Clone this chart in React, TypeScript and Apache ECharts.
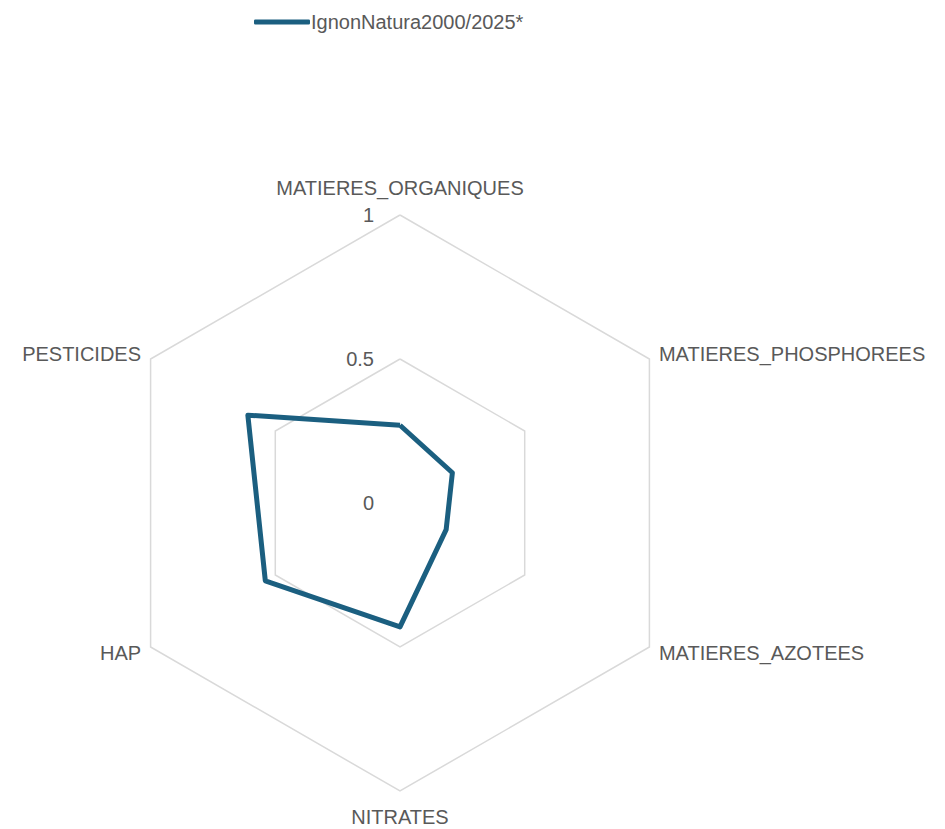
import React, { useEffect, useRef } from "react";
import * as echarts from "echarts";

const seriesName = "IgnonNatura2000/2025*";
// Categories clockwise from the top
const categories = [
  "MATIERES_ORGANIQUES",
  "MATIERES_PHOSPHOREES",
  "MATIERES_AZOTEES",
  "NITRATES",
  "HAP",
  "PESTICIDES",
];
const values = [0.27, 0.21, 0.185, 0.43, 0.54, 0.61];
const axisMax = 1;
const splitCount = 2;

const LINE_COLOR = "#1b5f80";
const TEXT_COLOR = "#595959";
const FONT = "'Liberation Sans', Arial, sans-serif";
const FONT_SIZE = 20;

export default function App() {
  const ref = useRef<HTMLDivElement>(null);
  useEffect(() => {
    if (!ref.current) return;
    const chart = echarts.init(ref.current, null, { renderer: "svg" });
    // ECharts radar runs counter-clockwise: reorder so the chart reads clockwise
    const order = [0, ...categories.map((_, i) => i).slice(1).reverse()];
    const indicator = order.map((idx) => {
      const c = categories[idx];
      const base: any = { name: c, min: 0, max: axisMax };
      if (idx === 0) {
        base.nameGap = 17;
        base.axisLabel = {
          show: true,
          margin: 26,
          color: TEXT_COLOR,
          fontSize: FONT_SIZE,
          fontFamily: FONT,
        };
      }
      if (c === "NITRATES") base.nameGap = 16;
      return base;
    });
    const orderedValues = order.map((idx) => values[idx]);
    chart.setOption({
      animation: false,
      backgroundColor: "#ffffff",
      textStyle: { fontFamily: FONT },
      legend: {
        top: 7,
        left: 249,
        icon: "roundRect",
        itemWidth: 56,
        itemHeight: 5,
        itemGap: 10,
        textStyle: {
          color: TEXT_COLOR,
          fontSize: FONT_SIZE,
          fontFamily: FONT,
          padding: [0, 0, 0, -4],
        },
        data: [seriesName],
      },
      radar: {
        center: [400, 503],
        radius: 288,
        shape: "polygon",
        startAngle: 90,
        splitNumber: splitCount,
        nameGap: 11,
        axisName: { color: TEXT_COLOR, fontSize: FONT_SIZE, fontFamily: FONT },
        axisLine: { show: false },
        axisTick: { show: false },
        splitLine: { lineStyle: { color: "#d9d9d9", width: 1.5 } },
        splitArea: { show: false },
        indicator,
      },
      series: [
        {
          type: "radar",
          name: seriesName,
          symbol: "none",
          itemStyle: { color: LINE_COLOR },
          lineStyle: { color: LINE_COLOR, width: 5 },
          data: [{ value: orderedValues, name: seriesName }],
        },
      ],
    });
    return () => chart.dispose();
  }, []);
  return (
    <div
      ref={ref}
      style={{ position: "fixed", left: 0, top: 0, width: 945, height: 829 }}
    />
  );
}
